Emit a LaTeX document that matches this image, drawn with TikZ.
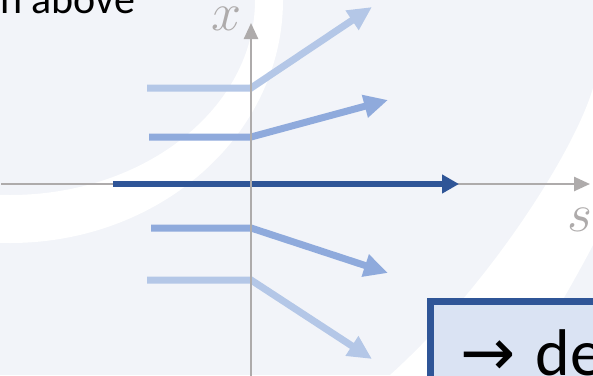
\documentclass[tikz,border=0pt]{standalone}
\usepackage{fix-cm}
\usepackage{fontspec}
\setmainfont{Carlito}
\newfontfamily\symfont{DejaVu Sans}
\usetikzlibrary{arrows.meta}
\definecolor{bg}{HTML}{F2F4F9}
\definecolor{axisgray}{HTML}{AEABAB}
\definecolor{lightb}{HTML}{B4C7E7}
\definecolor{midb}{HTML}{8FAADC}
\definecolor{darkb}{HTML}{2F5597}
\definecolor{boxfill}{HTML}{DAE3F3}
\tikzset{
  axisline/.style={draw=axisgray, line width=2.5pt, -{Triangle[length=16pt,width=14pt]}},
  traj/.style={line width=7pt, line join=miter, -{Triangle[length=24pt,width=22pt]}},
  maintraj/.style={draw=darkb, line width=6pt, -{Triangle[length=17pt,width=18pt]}},
  axislabel/.style={text=axisgray, inner sep=0pt, font=\fontsize{54}{54}\selectfont},
}
\begin{document}
\begin{tikzpicture}[x=1pt,y=-1pt]
\useasboundingbox (0,0) rectangle (593,375);
\clip (0,0) rectangle (593,375);
% background
\fill[bg] (0,0) rectangle (593,375);
% white band upper left
\fill[white, even odd rule] (10,0) ellipse [x radius=273, y radius=243] (10,0) ellipse [x radius=245, y radius=195];
% white band lower right
\fill[white] (593,88) .. controls (575,150) and (490,285) .. (390,375) -- (520,375) .. controls (545,330) and (575,280) .. (593,245) -- cycle;
% coordinates
\coordinate (xa0) at (1,184);
\coordinate (xa1) at (590,184);
\coordinate (ya0) at (251,376);
\coordinate (ya1) at (251,23);
\coordinate (a0) at (147,88);   \coordinate (a1) at (251,88);   \coordinate (a2) at (372,7);
\coordinate (b0) at (149,137);  \coordinate (b1) at (251,137);  \coordinate (b2) at (388,100);
\coordinate (c0) at (113,184);  \coordinate (c2) at (459,184);
\coordinate (d0) at (151,228);  \coordinate (d1) at (251,228);  \coordinate (d2) at (388,273);
\coordinate (e0) at (147,280);  \coordinate (e1) at (251,280);  \coordinate (e2) at (372,359);
% horizontal axis
\draw[axisline] (xa0) -- (xa1);
% trajectories
\draw[traj, draw=lightb] (a0) -- (a1) -- (a2);
\draw[traj, draw=midb] (b0) -- (b1) -- (b2);
\draw[maintraj] (c0) -- (c2);
\draw[traj, draw=midb] (d0) -- (d1) -- (d2);
\draw[traj, draw=lightb] (e0) -- (e1) -- (e2);
% vertical axis
\draw[axisline] (ya0) -- (ya1);
% labels
\node[axislabel] (xlab) at (227,19) {$x$};
\node[axislabel] (slab) at (580,220) {$s$};
% top text
\node[anchor=base west, inner sep=0pt, font=\fontsize{42}{42}\selectfont] (note) at (0,13) {n above};
% box
\draw[draw=darkb, fill=boxfill, line width=6.5pt] (430.5,301.3) rectangle (640,420);
\node[anchor=base west, inner sep=0pt, font=\fontsize{66}{66}\selectfont] (boxtext) at (460,375) {{\symfont →}\hspace{5pt} de};
\end{tikzpicture}
\end{document}
